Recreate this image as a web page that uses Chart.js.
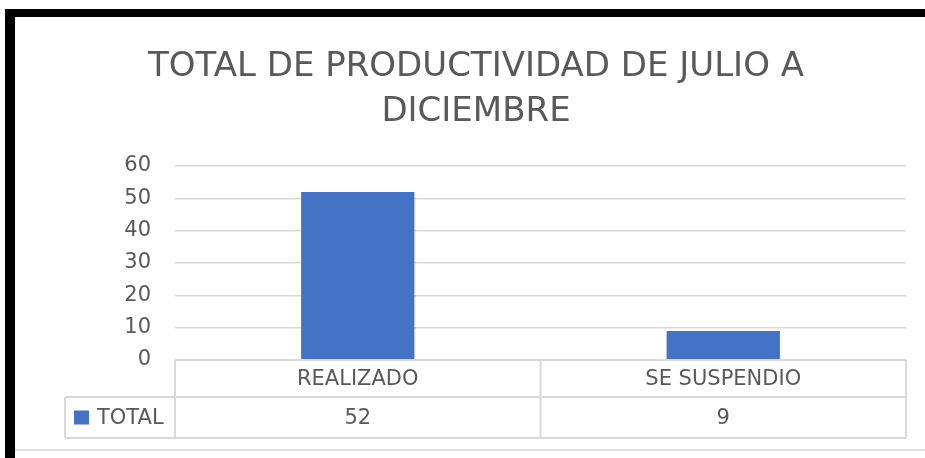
<!DOCTYPE html>
<html><head><meta charset="utf-8">
<script src="https://cdn.jsdelivr.net/npm/chart.js@4.4.1/dist/chart.umd.min.js"></script>
<style>
html,body{margin:0;padding:0;background:#fff;width:925px;height:458px;overflow:hidden}
#frame{position:absolute;left:5px;top:9px;width:920px;height:449px;box-sizing:border-box;border-top:8px solid #000;border-left:10px solid #000}
#bottomline{position:absolute;left:15px;top:449px;width:910px;height:2px;background:#dedede}
#wrap{position:absolute;left:0;top:0;width:925px;height:458px}
</style></head>
<body>
<div id="frame"></div><div id="bottomline"></div>
<div id="wrap"><canvas id="c" width="925" height="458"></canvas></div>
<script>
const categories = ['REALIZADO', 'SE SUSPENDIO'];
const seriesName = 'TOTAL';
const totals = [52, 9];
const yTicks = [0, 10, 20, 30, 40, 50, 60];
const titleLines = ['TOTAL DE PRODUCTIVIDAD DE JULIO A', 'DICIEMBRE'];

const BAR_COLOR = '#4472C4';
const TEXT_COLOR = '#595959';
const GRID_COLOR = '#d9d9d9';
const FONT = "'DejaVu Sans', sans-serif";

const tablePlugin = {
  id: 'dataTable',
  afterDraw(chart) {
    const ctx = chart.ctx;
    const a = chart.chartArea;
    const x = chart.scales.x;
    const top = a.bottom, mid = top + 37, bot = mid + 41;
    const keyLeft = 65;
    const centers = categories.map((c, i) => x.getPixelForValue(i));
    const bounds = [a.left];
    for (let i = 0; i < centers.length - 1; i++) bounds.push((centers[i] + centers[i + 1]) / 2);
    bounds.push(a.right);
    ctx.save();
    ctx.strokeStyle = GRID_COLOR;
    ctx.lineWidth = 2;
    ctx.beginPath();
    ctx.moveTo(a.left, top); ctx.lineTo(a.right, top);
    ctx.moveTo(keyLeft, mid); ctx.lineTo(a.right, mid);
    ctx.moveTo(keyLeft, bot); ctx.lineTo(a.right, bot);
    ctx.moveTo(keyLeft, mid); ctx.lineTo(keyLeft, bot);
    bounds.forEach(b => { ctx.moveTo(b, top); ctx.lineTo(b, bot); });
    ctx.stroke();
    ctx.fillStyle = TEXT_COLOR;
    ctx.font = "21px " + FONT;
    ctx.textAlign = 'center';
    ctx.textBaseline = 'middle';
    categories.forEach((c, i) => {
      ctx.fillText(c, centers[i], (top + mid) / 2 + 1);
      ctx.fillText(String(totals[i]), centers[i], (mid + bot) / 2 + 1);
    });
    ctx.fillStyle = BAR_COLOR;
    ctx.fillRect(keyLeft + 9, (mid + bot) / 2 - 7, 15, 14);
    ctx.fillStyle = TEXT_COLOR;
    ctx.textAlign = 'left';
    ctx.fillText(seriesName, keyLeft + 32, (mid + bot) / 2 + 1);
    ctx.restore();
  }
};

new Chart(document.getElementById('c'), {
  type: 'bar',
  data: {
    labels: categories,
    datasets: [{
      label: seriesName,
      data: totals,
      backgroundColor: BAR_COLOR,
      borderWidth: 0,
      barPercentage: 0.31,
      categoryPercentage: 1
    }]
  },
  options: {
    responsive: false,
    animation: false,
    layout: { padding: { left: 46, right: 19, top: 17, bottom: 98 } },
    plugins: {
      legend: { display: false },
      tooltip: { enabled: false },
      title: {
        display: true,
        text: titleLines,
        color: TEXT_COLOR,
        font: { family: FONT, size: 34, weight: 'normal', lineHeight: 1.324 },
        padding: { top: 28, bottom: 31 }
      }
    },
    scales: {
      x: {
        grid: { display: false },
        border: { display: false },
        ticks: { display: false },
        afterFit(s) { s.height = 0; }
      },
      y: {
        min: yTicks[0],
        max: yTicks[yTicks.length - 1],
        afterBuildTicks(s) { s.ticks = yTicks.map(v => ({ value: v })); },
        grid: { color: GRID_COLOR, lineWidth: 1.5, drawTicks: false },
        border: { display: false },
        ticks: { color: TEXT_COLOR, padding: 24, font: { family: FONT, size: 21 } },
        afterFit(s) { s.width = 129; }
      }
    }
  },
  plugins: [tablePlugin]
});
</script>
</body></html>
